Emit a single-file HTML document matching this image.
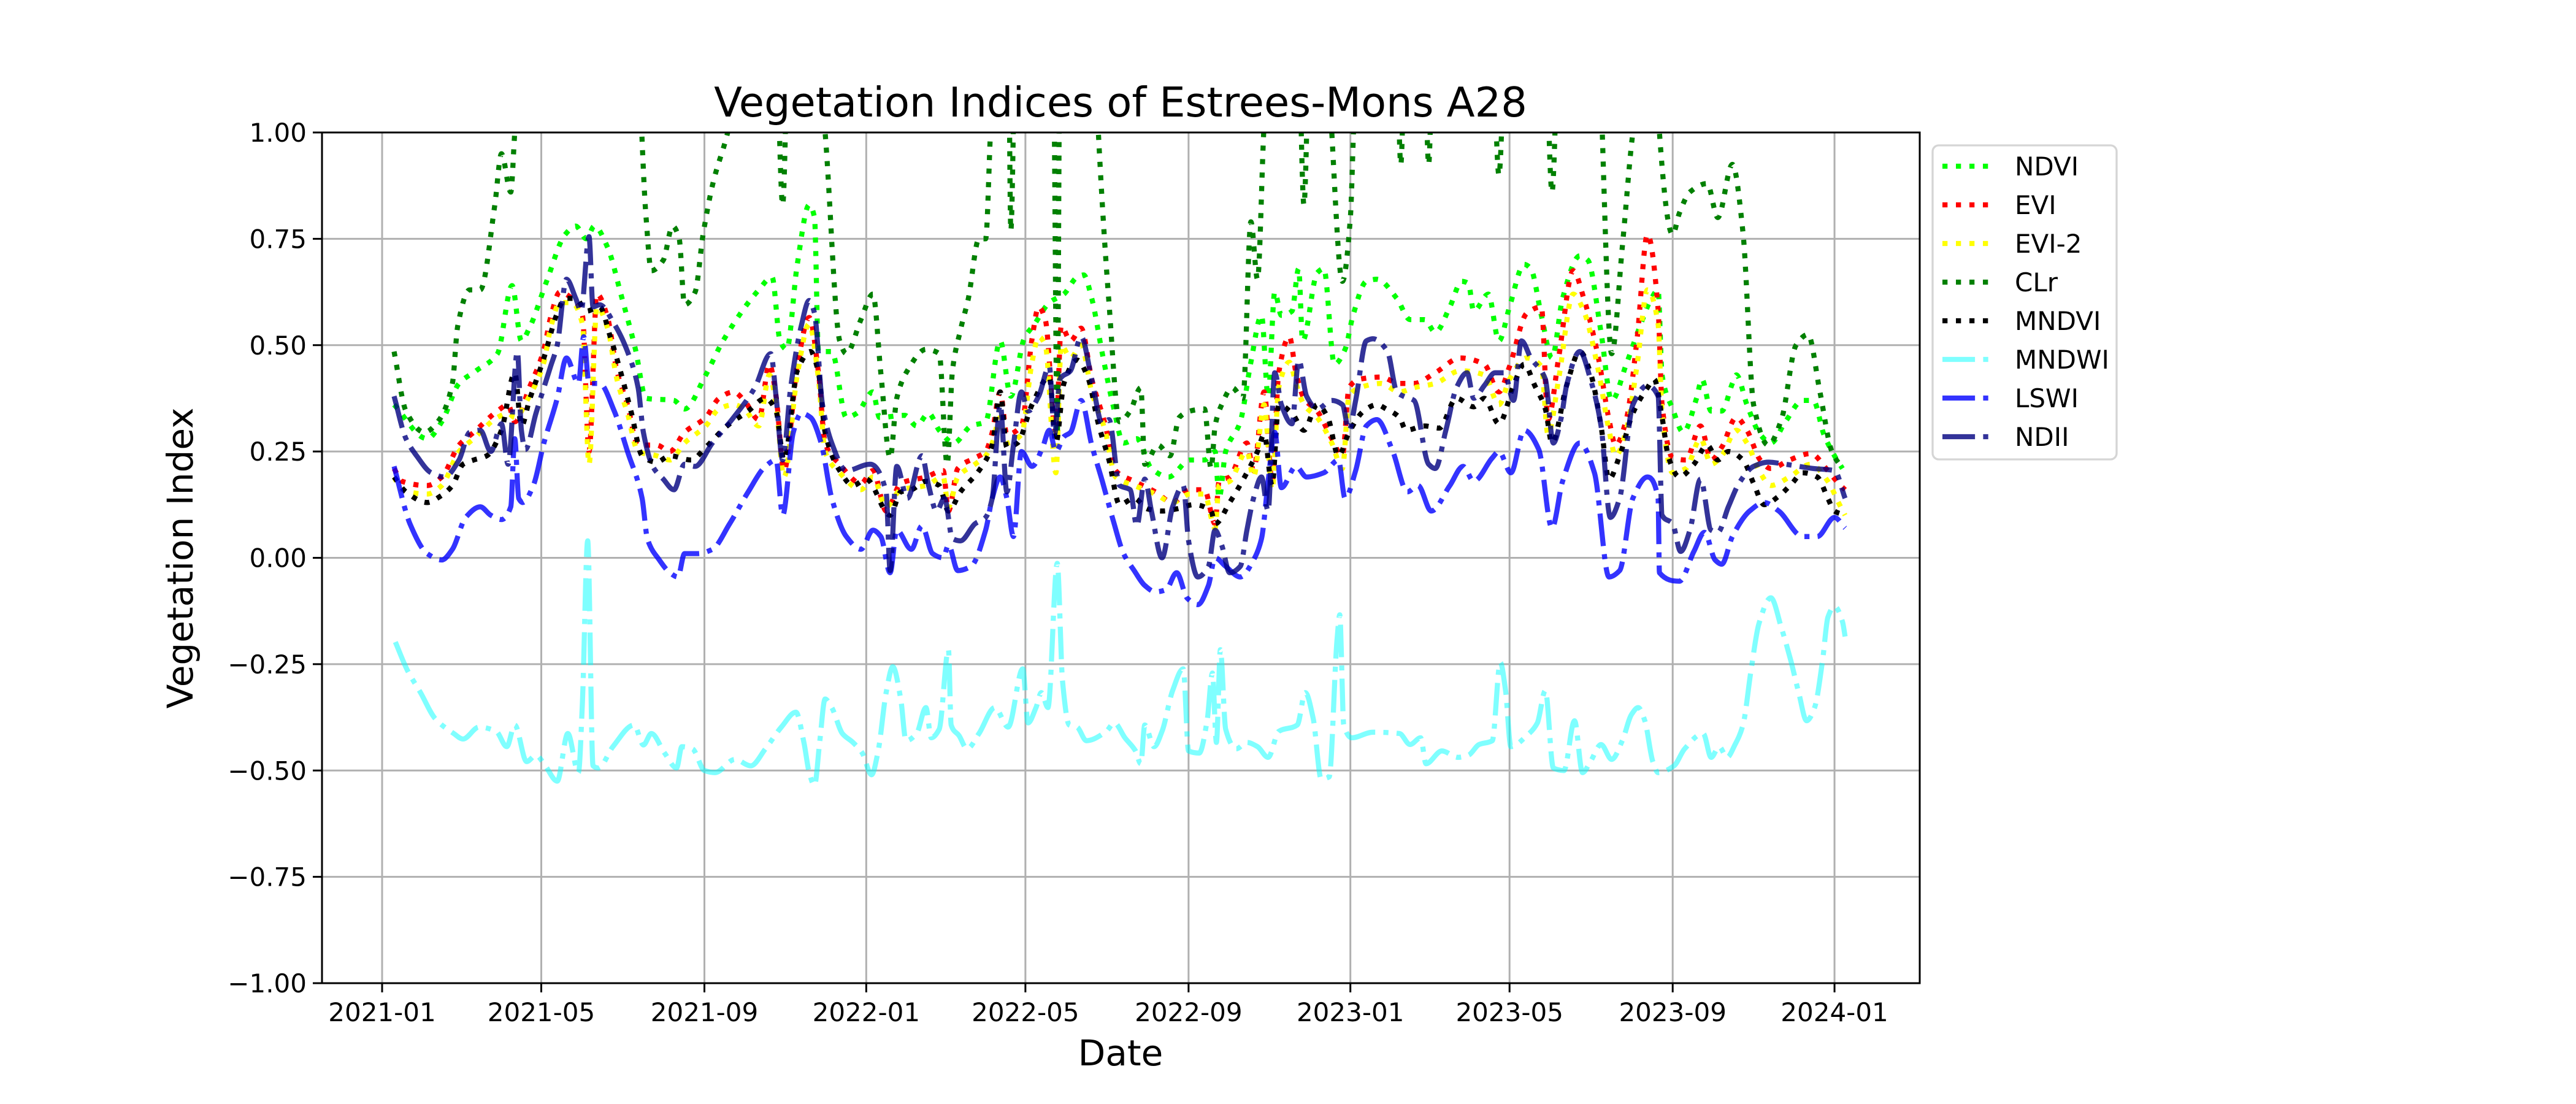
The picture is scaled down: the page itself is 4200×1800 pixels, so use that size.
<!DOCTYPE html>
<html><head><meta charset="utf-8"><title>Vegetation Indices of Estrees-Mons A28</title>
<style>html,body{margin:0;padding:0;background:#fff;}svg{display:block;font-family:"DejaVu Sans","Liberation Sans",sans-serif;}</style>
</head><body>
<svg id="chart" xmlns="http://www.w3.org/2000/svg" width="4200" height="1800" viewBox="0 0 4200 1800">
<rect x="0" y="0" width="4200" height="1800" fill="#fff"/>
<defs><clipPath id="plotclip"><rect x="525" y="216" width="2605" height="1387"/></clipPath></defs>
<g id="grid"></g>
<g id="series" clip-path="url(#plotclip)"></g>
<rect x="525" y="216" width="2605" height="1387" fill="none" stroke="#000" stroke-width="3"/>
<g id="ticks"></g>
<text x="1827" y="190" font-size="67" text-anchor="middle">Vegetation Indices of Estrees-Mons A28</text>
<text x="1827" y="1737" font-size="58" text-anchor="middle">Date</text>
<text x="0" y="0" font-size="58" text-anchor="middle" transform="translate(314,910) rotate(-90)">Vegetation Index</text>
<g id="legend"></g>
</svg>
<script>
const xTickDays = [0,120,243,365,485,608,730,850,973,1095];
const xTickLabels = ["2021-01","2021-05","2021-09","2022-01","2022-05","2022-09","2023-01","2023-05","2023-09","2024-01"];
const yTickValues = [-1,-0.75,-0.5,-0.25,0,0.25,0.5,0.75,1];
const yTickLabels = ["\u22121.00","\u22120.75","\u22120.50","\u22120.25","0.00","0.25","0.50","0.75","1.00"];
const seriesNames = ["NDVI","EVI","EVI-2","CLr","MNDVI","MNDWI","LSWI","NDII"];

const ndviDays = [9,34,45,58,71,87,98,105,111,124,138,146,154,160,170,180,191,199,220,228,244,257,284,294,300,305,313,322,326,329,339,350,358,370,375,394,403,412,420,431,444,455,466,474,484,492,503,514,524,529,535,543,551,559,569,580,593,609,620,628,631,636,647,655,663,668,673,678,686,691,694,705,710,718,726,732,742,750,765,775,786,794,805,814,819,823,834,842,850,861,866,874,882,890,903,909,919,927,938,949,957,962,965,973,981,991,995,1002,1010,1018,1021,1029,1039,1047,1058,1071,1079,1087,1095,1101];
const ndviValues = [.36,.28,.32,.41,.44,.48,.64,.51,.54,.65,.76,.78,.75,.78,.73,.62,.49,.375,.37,.35,.43,.51,.63,.66,.51,.49,.69,.83,.80,.485,.485,.33,.34,.39,.33,.335,.31,.34,.30,.27,.31,.32,.51,.38,.515,.55,.60,.62,.66,.665,.61,.48,.36,.27,.28,.21,.19,.23,.23,.25,.14,.25,.32,.46,.57,.38,.625,.57,.58,.68,.51,.67,.68,.455,.49,.57,.65,.655,.61,.56,.56,.53,.59,.65,.645,.58,.62,.51,.59,.69,.68,.57,.47,.61,.71,.70,.53,.37,.455,.55,.61,.63,.43,.35,.295,.375,.42,.345,.345,.41,.43,.36,.29,.27,.32,.37,.37,.29,.24,.21];

const eviDays = [9,15,34,45,58,69,87,95,100,111,122,127,134,143,151,156,162,170,177,185,193,207,217,228,244,254,265,273,284,292,297,303,313,322,329,334,345,361,370,380,391,410,423,427,434,447,455,460,466,471,482,490,495,500,508,512,519,527,535,545,553,567,583,596,609,620,628,631,639,652,657,665,671,676,684,689,695,705,716,724,729,737,753,767,778,794,813,831,842,850,863,874,879,887,898,906,917,925,930,938,946,954,962,965,973,983,994,1002,1010,1021,1029,1039,1047,1061,1077,1090,1098,1103];
const eviValues = [.21,.18,.17,.19,.265,.295,.345,.36,.32,.40,.49,.565,.625,.61,.57,.25,.62,.565,.44,.36,.265,.265,.25,.295,.33,.375,.39,.37,.325,.455,.38,.205,.45,.565,.435,.27,.22,.175,.205,.11,.175,.19,.205,.11,.21,.235,.25,.295,.39,.29,.31,.515,.59,.56,.29,.545,.51,.54,.42,.315,.205,.18,.155,.13,.16,.16,.08,.18,.19,.27,.205,.39,.18,.435,.52,.435,.375,.345,.28,.24,.40,.42,.425,.41,.41,.435,.47,.455,.39,.45,.575,.59,.325,.47,.675,.61,.47,.325,.265,.325,.51,.76,.585,.36,.235,.23,.31,.23,.26,.33,.30,.23,.21,.23,.245,.205,.175,.16];
const evi2Days = eviDays.slice();
const evi2Values = [.19,.16,.15,.17,.25,.28,.33,.34,.33,.38,.46,.54,.60,.60,.55,.22,.59,.54,.42,.34,.25,.24,.23,.27,.31,.35,.36,.35,.31,.43,.36,.19,.43,.55,.42,.25,.20,.16,.19,.12,.16,.17,.19,.12,.19,.22,.24,.27,.33,.27,.29,.46,.52,.50,.20,.50,.47,.50,.39,.30,.19,.17,.15,.13,.15,.15,.07,.17,.18,.25,.19,.36,.16,.40,.46,.41,.36,.33,.27,.21,.38,.40,.41,.39,.40,.41,.44,.43,.36,.42,.47,.45,.29,.42,.62,.58,.44,.30,.24,.30,.45,.63,.55,.34,.20,.21,.28,.22,.24,.30,.27,.20,.17,.19,.22,.18,.13,.10];

const clrDays = [9,18,32,42,53,57,66,74,85,90,97,100,108,190,199,203,212,219,224,228,236,242,249,262,275,296,302,307,325,334,345,350,361,370,376,383,388,396,410,420,426,430,436,442,450,455,459,466,472,474,478,500,506,509,511,520,536,540,548,556,564,572,575,585,594,601,609,620,625,628,633,641,649,655,660,665,672,690,695,700,712,716,724,730,733,740,764,768,772,785,789,793,836,842,848,876,882,888,915,927,935,943,960,963,973,978,986,999,1007,1018,1026,1034,1045,1055,1066,1075,1084,1093,1101];
const clrValues = [.485,.345,.295,.32,.41,.545,.63,.63,.83,.95,.86,1.0,1.3,1.3,.80,.675,.70,.78,.75,.595,.625,.76,.875,1.02,1.3,1.3,.83,1.3,1.3,1.0,.51,.48,.56,.62,.435,.235,.375,.44,.49,.48,.22,.44,.535,.61,.75,.75,1.02,1.3,1.3,.77,1.3,1.3,1.2,.29,1.2,1.3,1.3,1.0,.6,.32,.345,.40,.22,.265,.24,.33,.345,.35,.21,.31,.36,.40,.375,.79,.655,1.02,1.3,1.3,.83,1.3,1.3,1.0,.65,.80,1.05,1.3,1.3,.925,1.3,1.3,.925,1.3,1.3,.90,1.3,1.3,.86,1.3,1.3,.48,.73,1.0,1.3,1.0,.76,.81,.86,.88,.80,.925,.765,.36,.265,.325,.50,.525,.39,.25,.21];

const mndviDays = [9,18,34,44,53,61,69,79,90,100,105,111,122,132,138,146,154,164,172,180,188,196,207,217,233,244,260,276,289,297,303,313,323,329,334,345,355,365,383,391,399,410,420,427,436,450,460,466,471,479,490,503,508,514,524,532,540,548,556,567,577,588,599,612,625,628,639,652,660,665,671,676,686,695,705,713,721,729,740,750,757,767,772,786,797,810,823,831,842,853,861,869,877,882,893,903,911,919,925,933,943,954,959,965,970,978,989,999,1007,1015,1026,1034,1042,1053,1063,1071,1082,1090,1095,1103];
const mndviValues = [.19,.155,.13,.145,.17,.22,.23,.24,.30,.435,.31,.37,.47,.575,.61,.61,.58,.59,.52,.435,.34,.24,.225,.24,.23,.26,.31,.345,.375,.345,.23,.44,.485,.435,.295,.205,.17,.185,.10,.155,.16,.18,.17,.11,.155,.205,.265,.39,.26,.27,.36,.425,.27,.41,.465,.425,.315,.23,.125,.14,.115,.11,.115,.125,.11,.08,.13,.20,.25,.29,.17,.36,.34,.30,.36,.33,.24,.295,.345,.36,.35,.33,.30,.31,.305,.375,.355,.375,.315,.405,.455,.405,.35,.27,.405,.485,.435,.31,.185,.24,.34,.40,.42,.33,.235,.19,.22,.265,.23,.25,.23,.175,.125,.145,.175,.20,.19,.14,.11,.10];

const mndwiDays = [10,19,29,40,54,61,73,86,94,100,109,116,123,132,140,148,151,155,159,163,174,190,197,203,213,222,226,234,243,251,266,278,289,301,312,318,322,326,330,334,339,347,355,362,369,374,380,385,391,395,403,410,414,420,427,429,435,441,450,462,472,483,487,493,497,502,509,513,518,524,531,546,552,560,568,572,575,582,588,596,604,608,616,622,626,629,632,636,644,652,660,668,676,690,696,702,708,714,720,722,725,731,747,767,775,783,787,799,811,819,827,837,843,847,851,863,871,877,883,891,899,905,911,919,927,935,942,947,952,958,962,974,982,996,1002,1008,1014,1020,1026,1032,1038,1047,1055,1062,1068,1074,1080,1086,1090,1095,1101,1103];
const mndwiValues = [-.198,-.264,-.317,-.378,-.413,-.426,-.398,-.408,-.444,-.393,-.479,-.464,-.489,-.525,-.413,-.505,-.34,.04,-.489,-.494,-.444,-.393,-.44,-.413,-.459,-.494,-.444,-.449,-.50,-.505,-.474,-.489,-.449,-.398,-.363,-.434,-.505,-.535,-.43,-.332,-.352,-.413,-.434,-.459,-.51,-.454,-.317,-.256,-.332,-.43,-.413,-.352,-.423,-.403,-.216,-.393,-.418,-.449,-.413,-.352,-.398,-.261,-.388,-.352,-.317,-.352,-.013,-.29,-.393,-.398,-.43,-.408,-.388,-.423,-.454,-.484,-.393,-.444,-.408,-.312,-.261,-.454,-.459,-.383,-.271,-.434,-.216,-.403,-.449,-.434,-.444,-.469,-.408,-.393,-.317,-.378,-.52,-.515,-.19,-.134,-.393,-.423,-.41,-.413,-.439,-.423,-.484,-.454,-.469,-.464,-.439,-.43,-.246,-.312,-.444,-.418,-.388,-.312,-.494,-.50,-.383,-.505,-.479,-.439,-.474,-.43,-.368,-.352,-.383,-.479,-.505,-.489,-.449,-.413,-.469,-.444,-.469,-.439,-.393,-.266,-.155,-.094,-.165,-.241,-.317,-.383,-.352,-.241,-.14,-.114,-.15,-.185];

const lswiDays = [9,21,34,45,53,63,74,82,90,97,100,103,106,114,122,132,139,148,152,156,164,175,185,196,200,209,217,223,228,238,249,262,276,289,297,302,310,316,323,331,339,350,361,370,376,383,388,399,407,415,423,427,434,444,455,460,466,471,476,482,490,498,503,508,514,519,527,535,543,551,559,567,575,583,591,599,607,615,623,628,636,647,657,663,668,673,678,689,697,710,721,726,734,742,750,762,773,781,791,805,815,823,837,842,851,861,872,882,890,903,914,925,933,943,954,962,963,978,989,997,1005,1010,1018,1031,1042,1053,1071,1082,1095,1103];
const lswiValues = [.215,.08,.01,-.005,.02,.095,.12,.10,.09,.12,.28,.14,.13,.17,.27,.375,.47,.41,.52,.41,.41,.345,.25,.14,.045,-.005,-.035,-.045,.01,.01,.02,.08,.155,.215,.23,.10,.295,.34,.33,.27,.14,.05,.02,.065,.05,-.035,.065,.02,.075,.01,0,.03,-.03,-.02,.065,.14,.19,.14,.05,.25,.215,.26,.30,.25,.285,.295,.37,.265,.18,.09,.01,-.03,-.065,-.08,-.075,-.035,-.095,-.11,-.065,0,-.02,-.045,-.005,.045,.18,.295,.165,.215,.19,.20,.23,.14,.205,.31,.325,.25,.155,.17,.11,.17,.215,.18,.235,.25,.20,.30,.255,.07,.18,.27,.20,-.045,-.03,.14,.19,.14,-.035,-.055,.015,.06,-.005,-.015,.05,.11,.13,.11,.05,.05,.095,.07];

const ndiiDays = [9,18,26,37,47,58,66,74,82,90,95,102,105,108,116,127,132,139,146,150,156,159,164,175,185,193,197,204,212,220,228,236,249,265,281,293,297,302,308,316,322,326,332,339,350,368,380,383,388,396,407,412,418,424,430,436,447,455,460,466,471,476,482,487,495,503,507,511,519,527,535,543,548,556,564,569,575,580,588,596,604,608,615,623,628,633,639,647,652,657,663,668,673,678,686,691,697,705,716,724,729,734,742,747,758,765,770,778,789,794,802,810,818,823,831,839,846,853,859,866,877,883,889,893,903,911,919,926,933,943,954,962,965,973,979,986,994,1002,1007,1015,1023,1034,1045,1058,1079,1095,1103];
const ndiiValues = [.38,.28,.24,.20,.19,.23,.295,.30,.25,.315,.22,.485,.30,.255,.34,.45,.50,.655,.61,.58,.755,.59,.595,.55,.485,.40,.295,.215,.185,.16,.22,.215,.27,.33,.40,.48,.38,.23,.40,.545,.605,.575,.36,.27,.205,.22,.155,-.03,.215,.14,.24,.17,.11,.14,.045,.04,.08,.095,.14,.36,.155,.265,.39,.345,.38,.45,.29,.42,.44,.52,.42,.315,.325,.17,.16,.075,.185,.11,0,.12,.17,.04,-.045,-.02,.065,.03,-.035,-.02,.065,.14,.19,.11,.435,.36,.315,.465,.38,.35,.37,.36,.30,.37,.51,.515,.485,.39,.38,.37,.22,.21,.30,.40,.435,.375,.405,.435,.435,.37,.51,.47,.42,.27,.33,.405,.485,.42,.31,.095,.14,.36,.405,.38,.10,.08,.015,.065,.185,.065,.06,.12,.175,.215,.225,.22,.21,.205,.14];

const NS = "http://www.w3.org/2000/svg";
const PL = 525, PR = 3130, PT = 216, PB = 1603;
function xScale(day){ return 623 + day * 2.1626; }
function yScale(v){ return PT + (1 - v) / 2 * (PB - PT); }

const LW = 8.3;
const DOT = (LW*1) + " " + (LW*1.65);
const DASHDOT = (LW*6.4) + " " + (LW*1.6) + " " + (LW*1) + " " + (LW*1.6);
const styles = [
  {color:"#00ff00", dash:DOT, op:1},
  {color:"#ff0000", dash:DOT, op:1},
  {color:"#ffff00", dash:DOT, op:1},
  {color:"#008000", dash:DOT, op:1},
  {color:"#000000", dash:DOT, op:1},
  {color:"#00ffff", dash:DASHDOT, op:0.5},
  {color:"#0000ff", dash:DASHDOT, op:0.8},
  {color:"#000080", dash:DASHDOT, op:0.8}
];
const allDays = [ndviDays,eviDays,evi2Days,clrDays,mndviDays,mndwiDays,lswiDays,ndiiDays];
const allValues = [ndviValues,eviValues,evi2Values,clrValues,mndviValues,mndwiValues,lswiValues,ndiiValues];

// grid + ticks
const grid = document.getElementById("grid");
const ticks = document.getElementById("ticks");
xTickDays.forEach((d,i)=>{
  const x = xScale(d);
  const gl = document.createElementNS(NS,"line");
  gl.setAttribute("x1",x); gl.setAttribute("x2",x); gl.setAttribute("y1",PT); gl.setAttribute("y2",PB);
  gl.setAttribute("stroke","#b0b0b0"); gl.setAttribute("stroke-width","3");
  
  
  grid.appendChild(gl);
  const tk = document.createElementNS(NS,"line");
  tk.setAttribute("x1",x); tk.setAttribute("x2",x); tk.setAttribute("y1",PB); tk.setAttribute("y2",PB+15);
  tk.setAttribute("stroke","#000"); tk.setAttribute("stroke-width","3");
  
  
  ticks.appendChild(tk);
  const t = document.createElementNS(NS,"text");
  t.setAttribute("x",x); t.setAttribute("y",PB+62); t.setAttribute("font-size","42"); t.setAttribute("text-anchor","middle");
  t.textContent = xTickLabels[i];
  
  
  ticks.appendChild(t);
});
yTickValues.forEach((v,i)=>{
  const y = yScale(v);
  const gl = document.createElementNS(NS,"line");
  gl.setAttribute("x1",PL); gl.setAttribute("x2",PR); gl.setAttribute("y1",y); gl.setAttribute("y2",y);
  gl.setAttribute("stroke","#b0b0b0"); gl.setAttribute("stroke-width","3");
  
  
  grid.appendChild(gl);
  const tk = document.createElementNS(NS,"line");
  tk.setAttribute("x1",PL-15); tk.setAttribute("x2",PL); tk.setAttribute("y1",y); tk.setAttribute("y2",y);
  tk.setAttribute("stroke","#000"); tk.setAttribute("stroke-width","3");
  
  
  ticks.appendChild(tk);
  const t = document.createElementNS(NS,"text");
  t.setAttribute("x",PL-25); t.setAttribute("y",y+15); t.setAttribute("font-size","42"); t.setAttribute("text-anchor","end");
  t.textContent = yTickLabels[i];
  
  
  ticks.appendChild(t);
});

// monotone cubic path
function pathFor(days, vals){
  const n = Math.min(days.length, vals.length);
  const xs=[], ys=[];
  for(let i=0;i<n;i++){ xs.push(xScale(days[i])); ys.push(yScale(vals[i])); }
  if(n<2) return "";
  const dx=[], m=[], t=[];
  for(let i=0;i<n-1;i++){ dx.push(Math.max(xs[i+1]-xs[i],0.01)); m.push((ys[i+1]-ys[i])/dx[i]); }
  t[0]=m[0]; t[n-1]=m[n-2];
  for(let i=1;i<n-1;i++){
    if(m[i-1]*m[i]<=0) t[i]=0;
    else { const w1=2*dx[i]+dx[i-1], w2=dx[i]+2*dx[i-1]; t[i]=(w1+w2)/(w1/m[i-1]+w2/m[i]); }
  }
  let d = "M"+xs[0].toFixed(1)+","+ys[0].toFixed(1);
  for(let i=0;i<n-1;i++){
    const h=dx[i]/3;
    d += " C"+(xs[i]+h).toFixed(1)+","+(ys[i]+t[i]*h).toFixed(1)+" "+(xs[i+1]-h).toFixed(1)+","+(ys[i+1]-t[i+1]*h).toFixed(1)+" "+xs[i+1].toFixed(1)+","+ys[i+1].toFixed(1);
  }
  return d;
}
const seriesG = document.getElementById("series");
seriesNames.forEach((name,i)=>{
  const p = document.createElementNS(NS,"path");
  p.setAttribute("d", pathFor(allDays[i], allValues[i]));
  p.setAttribute("fill","none");
  p.setAttribute("stroke", styles[i].color);
  p.setAttribute("stroke-opacity", styles[i].op);
  p.setAttribute("stroke-width", LW);
  p.setAttribute("stroke-dasharray", styles[i].dash);
  p.setAttribute("stroke-linejoin","round");
  
  
  seriesG.appendChild(p);
});

// legend
const lg = document.getElementById("legend");
const box = document.createElementNS(NS,"rect");
box.setAttribute("x",3151); box.setAttribute("y",237); box.setAttribute("width",300); box.setAttribute("height",512);
box.setAttribute("rx",10); box.setAttribute("fill","#fff"); box.setAttribute("stroke","#d5d5d5"); box.setAttribute("stroke-width","3.3");


lg.appendChild(box);
seriesNames.forEach((name,i)=>{
  const y = 271 + 63*i;
  const g = document.createElementNS(NS,"g");
  
  
  const l = document.createElementNS(NS,"line");
  l.setAttribute("x1",3167); l.setAttribute("x2",3242); l.setAttribute("y1",y); l.setAttribute("y2",y);
  l.setAttribute("stroke",styles[i].color); l.setAttribute("stroke-opacity",styles[i].op);
  l.setAttribute("stroke-width",LW); l.setAttribute("stroke-dasharray",styles[i].dash);
  
  
  g.appendChild(l);
  const t = document.createElementNS(NS,"text");
  t.setAttribute("x",3285); t.setAttribute("y",y+15); t.setAttribute("font-size","42");
  t.textContent = name;
  
  
  g.appendChild(t);
  lg.appendChild(g);
});
</script>
</body></html>
